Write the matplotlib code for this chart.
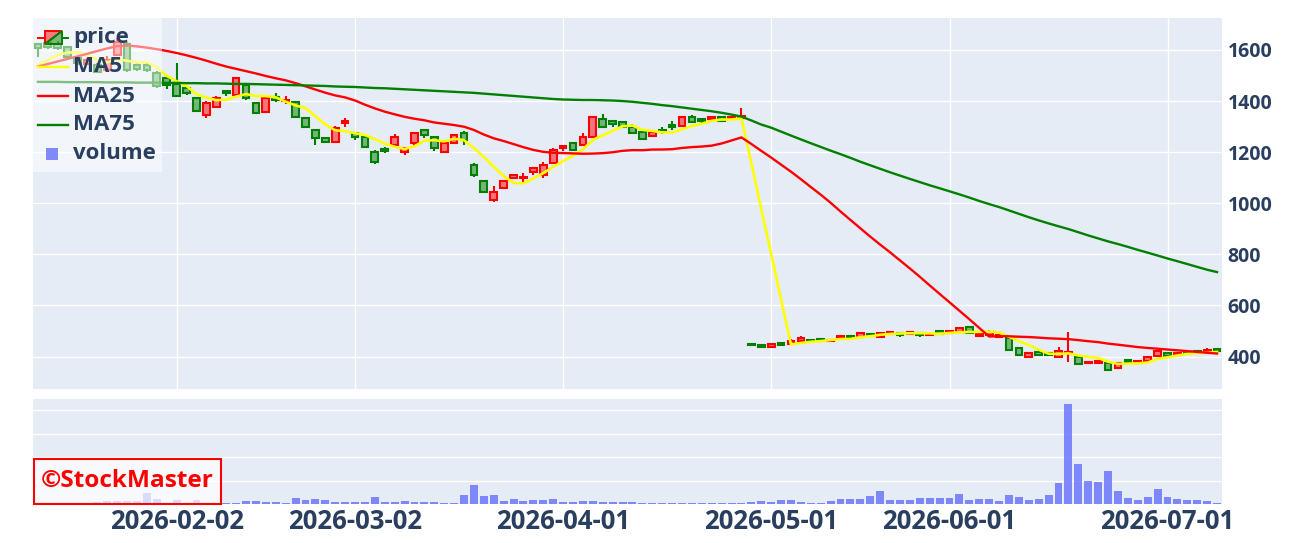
"""
candlestick chart with moving averages and volume (StockMaster style)
"""

import numpy as np
import pandas as pd
import matplotlib
matplotlib.use('Agg')
import matplotlib.pyplot as plt
from matplotlib.patches import Rectangle, Polygon
from matplotlib.lines import Line2D

# trading calendar (weekdays without Japanese holidays)
start_date = '2026-01-13'
end_date = '2026-07-08'
holidays = ['2026-02-11', '2026-02-23', '2026-03-20', '2026-04-29',
            '2026-05-04', '2026-05-05', '2026-05-06']
tick_dates = ['2026-02-02', '2026-03-02', '2026-04-01', '2026-05-01',
              '2026-06-01', '2026-07-01']

opens = [1622, 1628, 1625, 1612, 1570, 1545, 1541, 1522, 1580, 1625,
         1540, 1542, 1510, 1490, 1467, 1452, 1412, 1346, 1378, 1440,
         1424, 1463, 1393, 1357, 1415, 1400, 1396, 1334, 1287, 1256,
         1240, 1315, 1275, 1260, 1201, 1212, 1228, 1200, 1236, 1287,
         1260, 1201, 1236, 1275, 1150, 1087, 1013, 1060, 1097, 1098,
         1123, 1111, 1158, 1216, 1236, 1228, 1260, 1330, 1322, 1318,
         1299, 1279, 1263, 1287, 1306, 1303, 1338, 1330, 1330, 1338,
         1334, 1332, 449, 445, 436, 454, 450, 462, 466, 468,
         461, 471, 479, 478, 490, 478, 488, 493, 488, 494,
         486, 501, 494, 497, 514, 482, 484, 477, 472, 432,
         397, 418, 413, 398, 413, 400, 374, 374, 376, 354,
         387, 378, 384, 402, 413, 407, 418, 422, 418, 428]
highs = [1628, 1632, 1635, 1615, 1578, 1568, 1550, 1575, 1645, 1632,
         1548, 1550, 1518, 1500, 1549, 1456, 1415, 1400, 1418, 1442,
         1495, 1470, 1398, 1416, 1430, 1420, 1400, 1336, 1290, 1258,
         1303, 1334, 1278, 1262, 1210, 1222, 1270, 1218, 1280, 1290,
         1265, 1240, 1270, 1283, 1158, 1090, 1069, 1090, 1113, 1118,
         1140, 1160, 1217, 1226, 1240, 1275, 1342, 1350, 1325, 1320,
         1310, 1282, 1281, 1298, 1320, 1340, 1345, 1332, 1340, 1342,
         1342, 1372, 451, 447, 450, 456, 470, 480, 468, 470,
         468, 484, 481, 496, 492, 496, 500, 496, 499, 496,
         494, 504, 503, 512, 516, 492, 502, 486, 474, 434,
         415, 420, 415, 436, 498, 402, 384, 388, 378, 378,
         389, 384, 402, 427, 415, 415, 420, 425, 432, 430]
lows = [1572, 1605, 1600, 1568, 1540, 1540, 1510, 1518, 1575, 1515,
        1518, 1515, 1450, 1448, 1416, 1425, 1358, 1334, 1372, 1420,
        1420, 1405, 1350, 1352, 1398, 1390, 1335, 1296, 1228, 1236,
        1236, 1299, 1248, 1218, 1155, 1196, 1225, 1188, 1220, 1256,
        1205, 1198, 1232, 1228, 1103, 1040, 1005, 1057, 1094, 1085,
        1111, 1100, 1155, 1205, 1206, 1225, 1258, 1296, 1300, 1296,
        1272, 1250, 1262, 1270, 1285, 1300, 1315, 1312, 1328, 1320,
        1332, 1328, 444, 435, 434, 440, 447, 460, 458, 460,
        458, 470, 472, 476, 478, 476, 486, 478, 486, 476,
        482, 487, 492, 495, 489, 480, 482, 475, 424, 404,
        395, 403, 403, 393, 380, 369, 370, 372, 345, 350,
        375, 376, 382, 398, 401, 405, 411, 414, 416, 418]
closes = [1608, 1612, 1608, 1573, 1550, 1560, 1514, 1561, 1632, 1522,
          1525, 1522, 1458, 1463, 1420, 1430, 1362, 1393, 1412, 1430,
          1490, 1412, 1353, 1412, 1405, 1406, 1338, 1299, 1256, 1240,
          1295, 1320, 1260, 1220, 1160, 1206, 1260, 1215, 1275, 1268,
          1216, 1236, 1267, 1248, 1111, 1044, 1044, 1087, 1111, 1104,
          1138, 1150, 1209, 1224, 1209, 1260, 1338, 1299, 1310, 1299,
          1275, 1252, 1279, 1281, 1297, 1338, 1318, 1322, 1338, 1322,
          1338, 1342, 446, 437, 448, 445, 462, 473, 460, 462,
          466, 482, 475, 494, 481, 494, 498, 485, 497, 484,
          490, 489, 501, 510, 492, 490, 495, 484, 426, 406,
          413, 405, 406, 420, 419, 371, 378, 384, 347, 376,
          377, 382, 400, 423, 403, 413, 413, 418, 426, 421]
# volume in thousand shares
volume = [45, 45, 45, 45, 45, 45, 85, 130, 130, 130,
          130, 475, 215, 45, 170, 45, 170, 45, 45, 45,
          45, 130, 130, 85, 85, 45, 260, 170, 215, 170,
          85, 85, 85, 85, 300, 85, 85, 130, 85, 85,
          85, 45, 45, 390, 815, 345, 390, 130, 215, 130,
          170, 170, 215, 85, 85, 130, 130, 85, 85, 85,
          85, 30, 30, 30, 30, 30, 30, 30, 45, 45,
          45, 45, 85, 130, 85, 170, 170, 85, 45, 45,
          130, 215, 215, 215, 345, 560, 170, 170, 170, 260,
          260, 260, 260, 430, 170, 215, 215, 130, 390, 300,
          170, 215, 390, 905, 4260, 1720, 990, 945, 1420, 560,
          260, 170, 300, 645, 300, 215, 170, 170, 130, 45]

ma5_head = [1540, 1560, 1580, 1590]
ma25_head = [1535, 1545, 1555, 1565, 1575, 1585, 1596, 1606, 1615, 1617,
             1614, 1609, 1603, 1596, 1588, 1579, 1569, 1558, 1546, 1535,
             1526, 1517, 1508, 1498]
ma75_head = [1475, 1475, 1475, 1474, 1474, 1474, 1474, 1473, 1473, 1473,
             1472, 1472, 1472, 1471, 1471, 1470, 1470, 1469, 1469, 1468,
             1467, 1467, 1466, 1465, 1464, 1463, 1462, 1461, 1460, 1459,
             1457, 1456, 1455, 1453, 1451, 1450, 1448, 1446, 1444, 1442,
             1440, 1438, 1436, 1434, 1432, 1429, 1426, 1423, 1420, 1417,
             1414, 1411, 1408, 1406, 1405, 1404, 1404, 1403, 1402, 1400,
             1397, 1393, 1389, 1384, 1380, 1375, 1370, 1365, 1360, 1354,
             1347, 1339, 1324, 1308]

W, H = 1291, 543
TEXT = '#2a3f5f'
FONT = 'Open Sans'


def moving_average(values, n, head):
    ma = pd.Series(values, dtype=float).rolling(n).mean()
    ma.iloc[:len(head)] = head
    return ma.values


def fx(px):
    return px / W


def fy(py):
    return 1 - py / H


dates = pd.bdate_range(start_date, end_date, freq='C', holidays=holidays)
x = np.arange(len(dates))
o, h, l, c = (np.array(v, dtype=float) for v in (opens, highs, lows, closes))

fig = plt.figure(figsize=(W / 100, H / 100), dpi=100)
ax = fig.add_axes([fx(33), fy(389), fx(1189), 371 / H])
axv = fig.add_axes([fx(33), fy(504), fx(1189), 105 / H], sharex=ax)

for a in (ax, axv):
    a.set_facecolor('#e5ecf6')
    for s in a.spines.values():
        s.set_visible(False)
    a.tick_params(length=0)
    a.set_axisbelow(True)

# candles
inc = c >= o
line_cols = np.where(inc, '#ff0000', '#008000')
fill_cols = [(1, 0, 0, 0.5) if up else (0, 0.5, 0, 0.5) for up in inc]
top = np.maximum(o, c)
bot = np.minimum(o, c)
ax.vlines(x, top, h, colors=line_cols, lw=1.5, zorder=2)
ax.vlines(x, l, bot, colors=line_cols, lw=1.5, zorder=2)
ax.bar(x, np.maximum(top - bot, 0.5), bottom=bot, width=0.68,
       color=fill_cols, edgecolor=line_cols, linewidth=1.5, zorder=3)

ma5 = moving_average(closes, 5, ma5_head)
ma25 = moving_average(closes, 25, ma25_head)
ma75 = moving_average(closes, 75, ma75_head)
ax.plot(x, ma5, color='#ffff00', lw=1.9, zorder=4)
ax.plot(x, ma25, color='#ff0000', lw=1.7, zorder=4)
ax.plot(x, ma75, color='#008000', lw=1.7, zorder=4)

ax.set_xlim(-0.5, len(x) - 0.5)
ax.set_ylim(273, 1725)
ax.set_yticks(range(400, 1601, 200))
ax.yaxis.tick_right()
ax.tick_params(axis='y', pad=4)
for t in ax.get_yticklabels():
    t.set_fontfamily(FONT)
    t.set_fontweight('bold')
    t.set_fontsize(14)
    t.set_color(TEXT)
ax.grid(True, color='white', lw=1)
ax.tick_params(axis='x', labelbottom=False)

tick_pos = [dates.get_loc(pd.Timestamp(d)) for d in tick_dates]
ax.set_xticks(tick_pos)

# volume
axv.bar(x, volume, width=0.8, color='#636efa', alpha=0.8, zorder=2)
axv.set_ylim(0, 4473)
axv.set_yticks([1000, 2000, 3000, 4000])
axv.set_yticklabels([])
axv.grid(True, axis='y', color='white', lw=1)
axv.grid(False, axis='x')
axv.set_xticks(tick_pos)
axv.set_xticklabels(tick_dates, fontfamily=FONT, fontweight='bold',
                    fontsize=18.5, color=TEXT)
axv.tick_params(axis='x', pad=3)

# legend box
fig.patches.append(Rectangle((fx(33), fy(172)), fx(129), 154 / H,
                             transform=fig.transFigure, facecolor='white',
                             alpha=0.5, edgecolor='none', zorder=5))
rows = [('price', 38), ('MA5', 67), ('MA25', 96), ('MA75', 125), ('volume', 154)]
for name, py in rows:
    fig.text(fx(73), fy(py), name, fontfamily=FONT, fontweight='bold',
             fontsize=16, color=TEXT, va='center', ha='left', zorder=7)
# price icon: red upper half, green lower half
fig.patches.append(Polygon([(fx(45), fy(31)), (fx(62), fy(31)), (fx(45), fy(44))],
                           closed=True, transform=fig.transFigure,
                           facecolor=(1, 0, 0, 0.5), edgecolor='#ff0000', lw=1.4, zorder=6))
fig.patches.append(Polygon([(fx(62), fy(31)), (fx(62), fy(44)), (fx(45), fy(44))],
                           closed=True, transform=fig.transFigure,
                           facecolor=(0, 0.5, 0, 0.5), edgecolor='#008000', lw=1.4, zorder=6))
fig.lines.append(Line2D([fx(38), fx(45)], [fy(37.5)] * 2, transform=fig.transFigure,
                        color='#ff0000', lw=1.4, zorder=6))
fig.lines.append(Line2D([fx(62), fx(68)], [fy(37.5)] * 2, transform=fig.transFigure,
                        color='#008000', lw=1.4, zorder=6))
for col, py in (('#ffff00', 67), ('#ff0000', 96), ('#008000', 125)):
    fig.lines.append(Line2D([fx(38), fx(68)], [fy(py)] * 2, transform=fig.transFigure,
                            color=col, lw=1.7, zorder=6))
fig.patches.append(Rectangle((fx(46), fy(160)), fx(12), 12 / H,
                             transform=fig.transFigure, facecolor='#636efa',
                             alpha=0.8, edgecolor='none', zorder=6))

# watermark
fig.patches.append(Rectangle((fx(34), fy(504)), fx(187), 45 / H,
                             transform=fig.transFigure, facecolor=(1, 1, 1, 0.7),
                             edgecolor='#ff0000', lw=1.5, zorder=5))
fig.text(fx(127.5), fy(481), '\u00a9StockMaster', fontfamily=FONT, fontweight='bold',
         fontsize=17.6, color='#ff0000', ha='center', va='center', zorder=7)

fig.savefig('out.png', dpi=100, facecolor='white')
